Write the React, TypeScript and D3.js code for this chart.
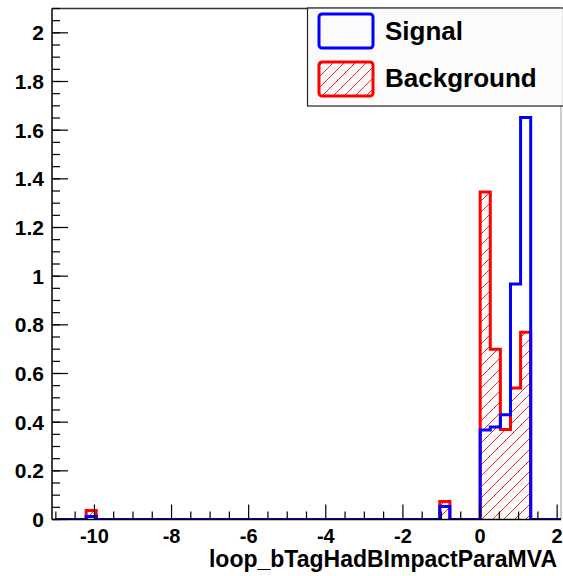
import React from "react";
import * as d3 from "d3";

// Histogram definition: 50 bins on [-11, 2.1]
const histMin = -11;
const histMax = 2.1;
const nBins = 50;

// Signal (blue) bin contents
const signalValues = [
  0, 0, 0, 0.012, 0, 0, 0, 0, 0, 0,
  0, 0, 0, 0, 0, 0, 0, 0, 0, 0,
  0, 0, 0, 0, 0, 0, 0, 0, 0, 0,
  0, 0, 0, 0, 0, 0, 0, 0, 0.053, 0,
  0, 0, 0.368, 0.38, 0.43, 0.968, 1.652, 0, 0, 0,
];

// Background (red, hatched) bin contents
const backgroundValues = [
  0, 0, 0, 0.037, 0, 0, 0, 0, 0, 0,
  0, 0, 0, 0, 0, 0, 0, 0, 0, 0,
  0, 0, 0, 0, 0, 0, 0, 0, 0, 0,
  0, 0, 0, 0, 0, 0, 0, 0, 0.074, 0,
  0, 0, 1.346, 0.70, 0.37, 0.54, 0.77, 0, 0, 0,
];

const xTickValues = [-10, -8, -6, -4, -2, 0, 2];
const xTickLabels = ["-10", "-8", "-6", "-4", "-2", "0", "2"];
const yTickValues = [0, 0.2, 0.4, 0.6, 0.8, 1, 1.2, 1.4, 1.6, 1.8, 2];
const yTickLabels = ["0", "0.2", "0.4", "0.6", "0.8", "1", "1.2", "1.4", "1.6", "1.8", "2"];

const legendLabels = ["Signal", "Background"];
const xTitle = "loop_bTagHadBImpactParaMVA";

const W = 563;
const H = 576;
const L = 52;
const R = 561;
const T = 8.5;
const B = 519.5;

const FONT = "'Liberation Sans', Arial, Helvetica, sans-serif";

export default function App() {
  const x = d3.scaleLinear().domain([-11.1, 2.1]).range([L, R]);
  const y = d3.scaleLinear().domain([0, 2.1]).range([B, T]);
  const bw = (histMax - histMin) / nBins;

  const stepPoints = (vals: number[]): [number, number][] => {
    const pts: [number, number][] = [[x(histMin), y(0)]];
    vals.forEach((v, i) => {
      const e0 = histMin + i * bw;
      const e1 = e0 + bw;
      pts.push([x(e0), y(v)]);
      pts.push([x(e1), y(v)]);
    });
    pts.push([x(histMax), y(0)]);
    return pts;
  };

  const line = d3.line<[number, number]>();
  const sigPath = line(stepPoints(signalValues)) || "";
  const bkgPts = stepPoints(backgroundValues);
  const bkgPath = line(bkgPts) || "";
  const bkgArea = (line([...bkgPts]) || "") + "Z";

  const xMinor = d3.range(-11, 2.01, 0.5).filter((v) => !xTickValues.includes(v));
  const yMinor = d3.range(0, 2.101, 0.05);

  return (
    <svg
      width={W}
      height={H}
      style={{ position: "absolute", left: 0, top: 0, background: "#fff" }}
      fontFamily={FONT}
    >
      <defs>
        <pattern id="hatch" patternUnits="userSpaceOnUse" width={11} height={11}>
          <path d="M0,11 L11,0 M-1,1 L1,-1 M10,12 L12,10" stroke="#ff2020" strokeWidth={1} />
        </pattern>
        <clipPath id="frameClip">
          <rect x={L} y={T - 2} width={R - L} height={B - T + 2} />
        </clipPath>
      </defs>
      <rect x={0} y={0} width={W} height={H} fill="#fff" />

      {/* frame */}
      <rect x={L} y={T} width={R - L} height={B - T} fill="#fff" stroke="none" />
      <line x1={L} y1={T} x2={R} y2={T} stroke="#333" strokeWidth={1.5} />
      <line x1={R} y1={T} x2={R} y2={B} stroke="#999" strokeWidth={1} />

      {/* histograms */}
      <g clipPath="url(#frameClip)">
        <path d={bkgArea} fill="url(#hatch)" stroke="none" />
        <path d={bkgPath} fill="none" stroke="#ff0000" strokeWidth={3} strokeLinejoin="miter" />
        <path d={sigPath} fill="none" stroke="#0000ff" strokeWidth={3} strokeLinejoin="miter" />
      </g>

      {/* axes lines */}
      <line x1={L} y1={B} x2={R} y2={B} stroke="#000" strokeWidth={1.5} />
      <line x1={L} y1={B} x2={L} y2={T} stroke="#000" strokeWidth={1.5} />

      {/* x ticks */}
      {xTickValues.map((v) => (
        <line key={"xt" + v} x1={x(v)} x2={x(v)} y1={B} y2={B - 15} stroke="#000" strokeWidth={1.2} />
      ))}
      {xMinor.map((v) => (
        <line key={"xm" + v} x1={x(v)} x2={x(v)} y1={B} y2={B - 8} stroke="#000" strokeWidth={1.2} />
      ))}
      {xTickValues.map((v, i) => (
        <text
          key={"xl" + v}
          x={x(v)}
          y={543}
          textAnchor="middle"
          fontSize={20}
          fontWeight="bold"
          fill="#000"
        >
          {xTickLabels[i]}
        </text>
      ))}
      <text x={557} y={567} textAnchor="end" fontSize={23} fontWeight="bold" fill="#000">
        {xTitle}
      </text>

      {/* y ticks */}
      {yTickValues.map((v) => (
        <line key={"yt" + v} x1={L} x2={L + 16} y1={y(v)} y2={y(v)} stroke="#000" strokeWidth={1.2} />
      ))}
      {yMinor.map((v) => (
        <line key={"ym" + v} x1={L} x2={L + 8} y1={y(v)} y2={y(v)} stroke="#000" strokeWidth={1.2} />
      ))}
      {yTickLabels.map((lab, i) => (
        <text
          key={"yl" + lab}
          x={44}
          y={y(yTickValues[i]) + 7.5}
          textAnchor="end"
          fontSize={21}
          fontWeight="bold"
          fill="#000"
        >
          {lab}
        </text>
      ))}

      {/* legend */}
      <rect x={307.5} y={8} width={256} height={98} fill="#fbfbfb" stroke="#222" strokeWidth={1.2} />
      <rect x={319} y={14} width={54} height={34} rx={3} fill="none" stroke="#0000ff" strokeWidth={3} />
      <rect x={319} y={62} width={54} height={34} rx={3} fill="url(#hatch)" stroke="#ff0000" strokeWidth={3} />
      <text x={385} y={40} fontSize={26} fontWeight="bold" fill="#000">
        {legendLabels[0]}
      </text>
      <text x={385} y={87} fontSize={26} fontWeight="bold" fill="#000">
        {legendLabels[1]}
      </text>
    </svg>
  );
}
